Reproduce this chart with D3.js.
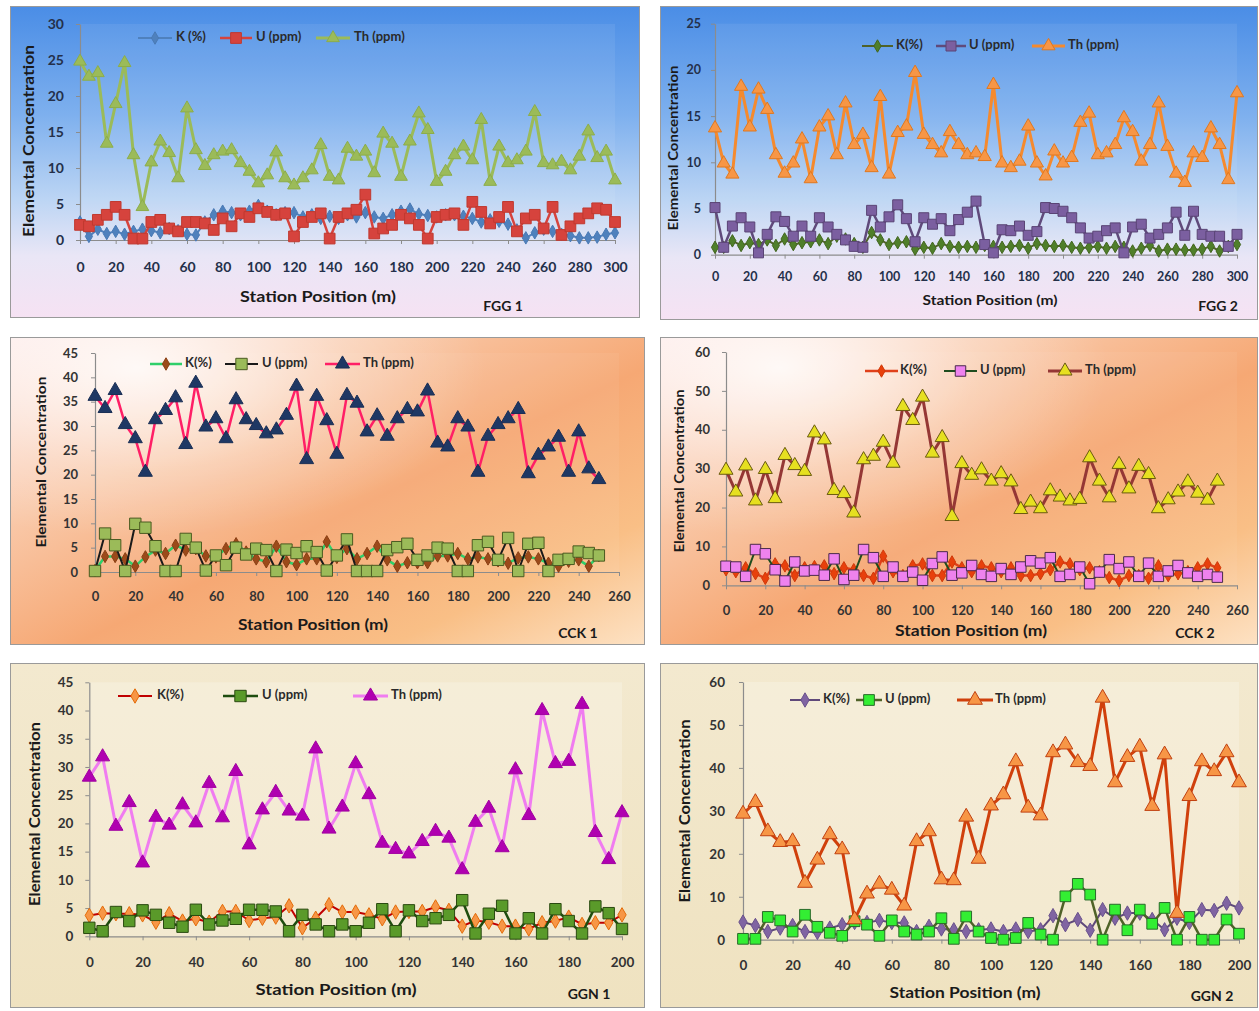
<!DOCTYPE html>
<html>
<head>
<meta charset="utf-8">
<script src="https://cdn.jsdelivr.net/npm/d3@7"></script>
<style>
  body { margin: 0; background: #ffffff; }
  svg text { font-family: Lato, "Open Sans", "DejaVu Sans", sans-serif; font-weight: 700; }
</style>
</head>
<body>
<svg id="chart" width="1259" height="1011"></svg>
<script>
// ---------- Survey data: K (%), U (ppm), Th (ppm) along each traverse ----------
// FGG 1 and FGG 2 : stations every 5 m from 0 to 300 m
const fgg1K  = [2.5,0.5,1.5,0.9,1.2,0.8,1.2,1.5,1.3,1.0,1.6,1.3,0.8,0.7,2.5,3.5,4.0,3.8,3.5,4.0,4.8,4.0,3.5,3.8,3.8,3.2,3.5,3.0,3.3,3.0,3.5,3.2,3.8,3.2,3.0,3.5,4.0,4.3,3.6,3.4,3.2,3.5,3.5,3.3,3.0,2.5,2.8,2.6,2.2,1.4,0.3,1.0,1.5,1.2,0.8,0.6,0.3,0.3,0.4,0.8,1.0];
const fgg1U  = [2.1,1.9,2.8,3.5,4.6,3.5,0.2,0.2,2.5,2.8,1.6,1.2,2.5,2.5,2.3,1.4,3.0,1.9,3.7,3.2,4.4,3.9,3.5,3.7,0.5,2.5,3.2,3.7,0.2,3.2,3.7,4.2,6.3,0.9,1.6,2.1,3.5,3.0,2.1,0.2,3.2,3.5,3.7,2.1,5.3,3.9,2.3,3.2,4.6,1.2,3.0,3.5,1.6,4.6,0.7,1.9,3.0,3.7,4.4,4.2,2.5];
const fgg1Th = [24.8,22.7,23.2,13.4,18.9,24.6,11.8,4.6,10.8,13.7,12.1,8.6,18.3,12.5,10.3,11.8,12.3,12.5,10.7,9.5,7.9,9.0,12.2,8.6,7.6,8.6,9.7,13.2,8.8,8.3,12.7,11.6,12.3,9.3,14.8,13.4,8.8,13.7,17.6,15.3,8.1,9.5,11.8,13.0,11.1,16.7,8.1,13.0,10.7,11.1,12.3,17.8,10.7,10.4,10.9,9.7,11.6,15.1,11.4,12.3,8.3];

const fgg2K  = [0.8,0.8,1.5,1.0,1.3,1.1,1.6,1.0,1.7,1.1,1.3,1.4,1.6,1.2,2.0,1.7,1.2,0.8,2.4,1.6,1.1,1.3,1.4,0.6,0.8,0.7,1.2,0.9,0.8,0.9,0.8,1.0,0.9,0.8,0.9,1.0,0.7,1.2,1.0,0.9,1.0,0.8,0.7,0.8,0.9,0.7,0.9,0.8,0.4,0.7,1.0,0.4,0.6,0.6,0.5,0.5,0.6,0.9,0.4,0.9,1.1];
const fgg2U  = [5.1,0.8,3.1,4.0,3.0,0.2,2.2,4.1,3.6,2.0,3.1,2.0,4.0,3.0,2.2,1.6,0.9,0.8,4.8,3.0,4.1,5.4,3.9,1.4,4.0,3.3,3.9,2.6,3.8,4.6,5.8,1.1,0.2,2.7,2.6,3.1,2.1,2.5,5.1,5.0,4.7,4.0,2.9,1.8,2.0,2.6,2.9,0.2,3.0,3.3,1.8,2.2,2.9,4.6,2.1,4.7,2.2,2.0,2.0,0.9,2.2];
const fgg2Th = [13.7,9.9,8.7,18.2,13.8,17.9,15.7,10.8,8.8,9.9,12.5,8.2,13.8,15.0,10.8,16.4,11.9,13.0,9.4,17.1,8.7,13.2,13.9,19.7,13.0,11.9,11.0,13.3,11.9,10.8,11.0,10.6,18.4,9.9,9.4,10.1,13.9,9.9,8.5,11.2,9.9,10.5,14.3,15.3,10.8,11.0,11.9,14.8,13.3,10.1,11.9,16.4,11.7,8.8,7.8,11.0,10.5,13.7,11.9,8.1,17.5];

// CCK 1 and CCK 2 : stations every 5 m from 0 to 250 m
const cck1K  = [0.3,3.2,3.2,2.7,1.2,3.1,4.5,3.8,5.5,4.5,4.8,3.3,3.1,4.8,5.8,4.1,2.7,2.1,5.3,2.1,1.5,2.7,2.7,6.2,3.0,4.8,2.7,3.8,5.3,2.5,1.2,1.9,1.9,1.9,3.3,3.3,3.8,2.7,3.1,2.7,2.3,1.8,2.9,3.1,2.7,1.8,1.2,2.2,2.5,1.2,3.4];
const cck1U  = [0.2,7.9,5.5,0.2,9.9,9.1,5.3,0.2,0.2,6.8,5.0,0.3,3.4,1.4,5.0,3.6,4.8,4.5,0.2,4.6,3.9,5.3,4.1,0.3,3.4,6.7,0.2,0.2,0.2,4.5,5.1,5.8,2.5,3.4,5.0,4.8,0.2,0.2,5.5,6.2,2.5,7.0,0.2,5.8,6.0,0.2,2.5,2.7,4.2,3.9,3.4];
const cck1Th = [36.1,33.6,37.3,30.3,27.4,20.5,31.3,33.2,35.8,26.2,38.8,29.8,31.5,27.4,35.4,31.3,30.1,28.4,29.2,32.2,38.2,23.1,36.1,31.1,24.2,36.3,34.7,28.8,32.1,27.9,31.5,33.4,32.9,37.2,26.5,25.7,31.5,29.8,20.5,27.9,30.3,31.5,33.4,20.2,24.0,25.7,27.7,20.5,28.8,21.2,19.0];

const cck2K  = [4.0,3.5,4.5,3.0,1.8,5.5,5.0,2.5,4.5,4.8,5.0,3.0,4.5,4.0,2.5,1.8,7.5,3.5,2.5,5.0,5.5,2.5,2.5,6.0,4.5,3.5,5.0,4.5,3.5,4.5,2.5,2.5,3.0,4.0,6.0,5.5,4.0,4.5,3.5,2.0,1.2,2.5,2.5,1.8,5.0,2.5,3.0,3.5,4.5,5.5,4.5];
const cck2U  = [4.9,4.7,2.3,9.2,8.1,4.0,1.1,6.0,3.7,3.9,2.6,6.8,1.5,2.6,9.2,7.1,2.3,4.7,2.3,3.4,1.3,5.6,7.3,2.6,3.2,5.1,2.8,2.3,4.3,2.8,4.7,6.3,5.7,7.1,2.3,2.8,4.7,0.4,3.4,6.6,4.3,6.0,2.3,5.7,2.3,3.7,5.1,3.2,2.3,2.8,2.1];
const cck2Th = [29.6,24.0,30.7,21.7,29.8,22.3,33.4,30.8,29.3,39.2,37.4,24.4,23.6,18.6,32.3,33.2,36.8,31.4,46.0,42.4,48.4,34.0,38.0,17.7,31.3,28.3,29.7,26.8,28.7,26.6,19.5,21.4,19.7,24.3,22.7,21.7,22.1,32.8,26.8,22.5,31.1,24.8,30.6,28.5,19.7,22.0,24.0,26.6,23.7,21.9,26.8];

// GGN 1 and GGN 2 : stations every 5 m from 0 to 200 m
const ggn1K  = [3.7,4.1,4.0,4.0,3.8,2.5,4.0,2.7,3.1,2.5,4.4,4.4,2.8,3.2,3.4,5.4,1.5,3.2,5.6,4.3,4.3,3.8,3.1,4.3,4.4,4.4,5.2,4.6,1.8,2.8,2.5,1.8,1.8,1.3,2.4,2.7,3.4,2.1,2.4,2.4,3.8];
const ggn1U  = [1.5,0.9,4.3,2.7,4.6,3.8,2.4,1.7,4.7,2.1,2.8,3.1,4.7,4.7,4.4,0.9,3.8,2.1,0.9,2.1,0.9,2.4,4.8,0.9,4.6,2.7,3.2,3.8,6.4,0.5,4.0,5.4,0.5,3.2,0.5,4.8,2.7,0.5,5.3,4.1,1.3];
const ggn1Th = [28.2,31.8,19.5,23.7,13.0,21.1,19.7,23.3,20.1,27.1,21.0,29.2,16.2,22.4,25.5,22.2,21.3,33.2,19.0,22.9,30.6,25.1,16.5,15.4,14.6,16.8,18.6,17.4,11.8,20.2,22.7,15.7,29.5,21.4,40.0,30.6,31.0,41.1,18.4,13.6,21.9];

const ggn2K  = [4.1,3.3,1.9,2.7,3.3,1.9,1.7,2.7,3.5,4.0,4.0,4.5,4.0,3.9,1.9,3.1,2.5,2.3,1.9,2.3,2.5,1.9,2.5,1.9,2.3,5.6,3.5,4.7,2.2,7.0,5.0,6.2,6.2,4.7,2.3,5.0,4.0,7.0,6.8,8.5,7.4];
const ggn2U  = [0.2,0.2,5.3,4.5,1.9,5.8,3.0,1.6,0.9,4.3,3.5,0.9,4.5,1.9,1.2,1.9,5.0,0.2,5.4,1.9,0.4,0.0,0.4,3.9,1.2,0.0,10.1,13.0,10.5,0.0,7.0,2.2,7.0,3.7,7.4,0.0,5.3,0.0,0.0,4.7,1.4];
const ggn2Th = [29.3,32.0,25.2,22.7,22.9,13.2,18.6,24.5,21.0,4.7,10.7,13.0,11.6,7.9,22.9,25.2,14.0,13.8,28.6,18.8,31.2,33.8,41.5,30.7,28.9,43.6,45.4,41.3,40.4,56.3,36.6,42.5,44.9,31.1,43.1,6.2,33.4,41.5,39.2,43.6,36.6];

// station positions (m)
const stations300 = d3.range(0, 301, 5);
const stations250 = d3.range(0, 251, 5);
const stations200 = d3.range(0, 201, 5);

// tick labels
const xTicks300 = [0,20,40,60,80,100,120,140,160,180,200,220,240,260,280,300];
const xTicks260 = [0,20,40,60,80,100,120,140,160,180,200,220,240,260];
const xTicks200 = [0,20,40,60,80,100,120,140,160,180,200];
const yTicks30 = [0,5,10,15,20,25,30];
const yTicks25 = [0,5,10,15,20,25];
const yTicks45 = [0,5,10,15,20,25,30,35,40,45];
const yTicks60 = [0,10,20,30,40,50,60];

// ---------- drawing ----------
const svg = d3.select('#chart');
const defs = svg.append('defs');

function linGrad(id, x1, y1, x2, y2, stops) {
  const g = defs.append('linearGradient').attr('id', id)
    .attr('x1', x1).attr('y1', y1).attr('x2', x2).attr('y2', y2);
  stops.forEach(s => g.append('stop').attr('offset', s[0]).attr('stop-color', s[1]));
}
function radGrad(id, cx, cy, r, stops) {
  const g = defs.append('radialGradient').attr('id', id)
    .attr('cx', cx).attr('cy', cy).attr('r', r);
  stops.forEach(s => g.append('stop').attr('offset', s[0]).attr('stop-color', s[1]).attr('stop-opacity', s[2] == null ? 1 : s[2]));
}
linGrad('bgBlue', 0, 0, 0, 1, [[0, '#4a8de6'], [0.35, '#7eb0ee'], [0.62, '#bcd5f4'], [0.8, '#e9e6f6'], [1, '#f6e2f3']]);
linGrad('bgOrange', 0, 0, 1, 1, [[0, '#fde6e4'], [0.3, '#f9c8a8'], [0.55, '#f6a874'], [0.8, '#f9bf86'], [1, '#fde2c4']]);
radGrad('glowOrange', 0.2, 0.1, 0.55, [[0, '#ffffff', 0.85], [0.6, '#ffffff', 0.25], [1, '#ffffff', 0]]);
linGrad('bgCream', 0, 0, 0, 1, [[0, '#f3e9cf'], [1, '#efe2c0']]);

const panels = [
  { frame: [10, 6, 630, 312], bg: 'bgBlue', glow: false, plotTint: 'rgba(255,255,255,0.07)',
    xr: [80, 615], yr: [240, 24], xMax: 300, yMax: 30, xTicks: xTicks300, yTicks: yTicks30, st: stations300,
    xPad: 18, yPad: 12, tickFill: '#24304a', fs: 14,
    yTitle: [30, 141, 192, 15], xTitle: [318, 298, 156, 15], tag: ['FGG 1', 503, 307],
    legendY: 38, legend: [[138, 172, 176], [220, 252, 256], [316, 350, 354]],
    series: [
      { name: 'K (%)', v: fgg1K, line: '#4f81bd', lw: 2, sym: d3.symbolDiamond, size: 45, fill: '#4f81bd', stroke: '#4a7ab5' },
      { name: 'U (ppm)', v: fgg1U, line: '#d6433d', lw: 2.5, sym: d3.symbolSquare, size: 115, fill: '#d6433d', stroke: '#c0392f' },
      { name: 'Th (ppm)', v: fgg1Th, line: '#9bbb59', lw: 3, sym: d3.symbolTriangle, size: 70, fill: '#9bbb59', stroke: '#8cad4a' } ] },
  { frame: [660, 6, 598, 314], bg: 'bgBlue', glow: false, plotTint: 'rgba(255,255,255,0.07)',
    xr: [715, 1237], yr: [254.7, 23.7], xMax: 300, yMax: 25, xTicks: xTicks300, yTicks: yTicks25, st: stations300,
    xPad: 13, yPad: 10, tickFill: '#24304a', fs: 12.5,
    yTitle: [675, 148, 165, 13.5], xTitle: [990, 302, 135, 13.5], tag: ['FGG 2', 1218, 307],
    legendY: 46, legend: [[862, 893, 896], [936, 966, 969], [1032, 1065, 1068]],
    series: [
      { name: 'K(%)', v: fgg2K, line: '#4f6228', lw: 2, sym: d3.symbolDiamond, size: 45, fill: '#4f7f2a', stroke: '#43661f' },
      { name: 'U (ppm)', v: fgg2U, line: '#604a7b', lw: 2.5, sym: d3.symbolSquare, size: 100, fill: '#7b5fa0', stroke: '#5a4475' },
      { name: 'Th (ppm)', v: fgg2Th, line: '#f58a2e', lw: 3, sym: d3.symbolTriangle, size: 75, fill: '#f79646', stroke: '#e0781f' } ] },
  { frame: [10, 337, 635, 308], bg: 'bgOrange', glow: true, plotTint: 'rgba(255,255,255,0.05)',
    xr: [95, 619], yr: [572, 353], xMax: 260, yMax: 45, xTicks: xTicks260, yTicks: yTicks45, st: stations250,
    xPad: 16, yPad: 13, tickFill: '#333333', fs: 13,
    yTitle: [42, 462, 171, 14], xTitle: [313, 626, 150, 14.5], tag: ['CCK 1', 578, 634],
    legendY: 364, legend: [[150, 182, 185], [225, 258, 262], [325, 360, 363]],
    series: [
      { name: 'K(%)', v: cck1K, line: '#2fcf6a', lw: 2.5, sym: d3.symbolDiamond, size: 45, fill: '#9c4a1a', stroke: '#8a3f14' },
      { name: 'U (ppm)', v: cck1U, line: '#1a1a1a', lw: 2, sym: d3.symbolSquare, size: 130, fill: '#9bbb59', stroke: '#4a5a20' },
      { name: 'Th (ppm)', v: cck1Th, line: '#ff1f66', lw: 2.5, sym: d3.symbolTriangle, size: 85, fill: '#1f3864', stroke: '#1a2f55' } ] },
  { frame: [660, 337, 598, 308], bg: 'bgOrange', glow: true, plotTint: 'rgba(255,255,255,0.05)',
    xr: [726, 1237], yr: [585.3, 352], xMax: 260, yMax: 60, xTicks: xTicks260, yTicks: yTicks60, st: stations250,
    xPad: 16, yPad: 12, tickFill: '#333333', fs: 13,
    yTitle: [680, 471, 163, 14], xTitle: [971, 632, 152, 14.5], tag: ['CCK 2', 1195, 634],
    legendY: 371, legend: [[865, 898, 900], [944, 977, 980], [1048, 1082, 1085]],
    series: [
      { name: 'K(%)', v: cck2K, line: '#e0401a', lw: 2.5, sym: d3.symbolDiamond, size: 45, fill: '#e8400c', stroke: '#d03a0a' },
      { name: 'U (ppm)', v: cck2U, line: '#1e4d1e', lw: 2, sym: d3.symbolSquare, size: 110, fill: '#ee82ee', stroke: '#4a2a4a' },
      { name: 'Th (ppm)', v: cck2Th, line: '#953735', lw: 3, sym: d3.symbolTriangle, size: 85, fill: '#e6e020', stroke: '#6a5a10' } ] },
  { frame: [10, 663, 635, 345], bg: 'bgCream', glow: false, plotTint: 'rgba(255,255,255,0.22)',
    xr: [89.3, 622], yr: [936.3, 682.3], xMax: 200, yMax: 45, xTicks: xTicks200, yTicks: yTicks45, st: stations200,
    xPad: 17, yPad: 12, tickFill: '#333333', fs: 13.5,
    yTitle: [36, 814, 184, 15], xTitle: [336, 991, 161, 15], tag: ['GGN 1', 589, 995],
    legendY: 696, legend: [[118, 152, 157], [223, 258, 262], [353, 388, 391]],
    series: [
      { name: 'K(%)', v: ggn1K, line: '#c00000', lw: 2, sym: d3.symbolDiamond, size: 60, fill: '#f79646', stroke: '#e36c09' },
      { name: 'U (ppm)', v: ggn1U, line: '#1e4d0f', lw: 2.5, sym: d3.symbolSquare, size: 130, fill: '#5a9a2a', stroke: '#2a4a10' },
      { name: 'Th (ppm)', v: ggn1Th, line: '#f07cf0', lw: 3, sym: d3.symbolTriangle, size: 85, fill: '#b000b0', stroke: '#a000a0' } ] },
  { frame: [660, 663, 598, 345], bg: 'bgCream', glow: false, plotTint: 'rgba(255,255,255,0.22)',
    xr: [743, 1239], yr: [939.7, 682], xMax: 200, yMax: 60, xTicks: xTicks200, yTicks: yTicks60, st: stations200,
    xPad: 17, yPad: 14, tickFill: '#333333', fs: 13.5,
    yTitle: [686, 811, 183, 15], xTitle: [965, 994, 151, 15], tag: ['GGN 2', 1212, 997],
    legendY: 700, legend: [[790, 820, 823], [856, 882, 885], [957, 993, 995]],
    series: [
      { name: 'K(%)', v: ggn2K, line: '#5f497a', lw: 2, sym: d3.symbolDiamond, size: 60, fill: '#8064a2', stroke: '#6a528c' },
      { name: 'U (ppm)', v: ggn2U, line: '#4f6228', lw: 2.5, sym: d3.symbolSquare, size: 115, fill: '#33ee33', stroke: '#2a6a2a' },
      { name: 'Th (ppm)', v: ggn2Th, line: '#d0400c', lw: 3, sym: d3.symbolTriangle, size: 95, fill: '#f79646', stroke: '#c04010' } ] }
];

panels.forEach(p => {
  const g = svg.append('g');
  const [fx, fy, fw, fh] = p.frame;

  // chart area background and frame
  g.append('rect').attr('x', fx).attr('y', fy).attr('width', fw).attr('height', fh)
    .attr('fill', `url(#${p.bg})`);
  if (p.glow) {
    g.append('rect').attr('x', fx).attr('y', fy).attr('width', fw).attr('height', fh)
      .attr('fill', 'url(#glowOrange)');
  }
  g.append('rect').attr('x', fx + 0.5).attr('y', fy + 0.5).attr('width', fw - 1).attr('height', fh - 1)
    .attr('fill', 'none').attr('stroke', '#9a9a9a').attr('stroke-width', 1);

  const xs = d3.scaleLinear().domain([0, p.xMax]).range(p.xr);
  const ys = d3.scaleLinear().domain([0, p.yMax]).range(p.yr);

  // plot area tint
  g.append('rect').attr('x', p.xr[0]).attr('y', p.yr[1])
    .attr('width', p.xr[1] - p.xr[0]).attr('height', p.yr[0] - p.yr[1])
    .attr('fill', p.plotTint);

  // axes
  const ax = g.append('g').attr('transform', `translate(0,${p.yr[0]})`)
    .call(d3.axisBottom(xs).tickValues(p.xTicks).tickSizeInner(4).tickSizeOuter(0).tickPadding(p.xPad));
  const ay = g.append('g').attr('transform', `translate(${p.xr[0]},0)`)
    .call(d3.axisLeft(ys).tickValues(p.yTicks).tickSizeInner(4).tickSizeOuter(0).tickPadding(p.yPad));
  [ax, ay].forEach(a => {
    a.select('.domain').attr('stroke', '#8c8c8c').attr('stroke-width', 1.2);
    a.selectAll('.tick line').attr('stroke', '#8c8c8c');
    a.selectAll('.tick text').attr('font-size', p.fs).attr('fill', p.tickFill)
      .attr('font-family', 'Lato, "Open Sans", sans-serif').attr('font-weight', 700);
  });

  // axis titles
  g.append('text')
    .attr('transform', `translate(${p.yTitle[0]},${p.yTitle[1]}) rotate(-90)`)
    .attr('text-anchor', 'middle').attr('dominant-baseline', 'middle')
    .attr('font-size', p.yTitle[3]).attr('fill', '#1a1a1a')
    .attr('textLength', p.yTitle[2]).attr('lengthAdjust', 'spacingAndGlyphs')
    .text('Elemental Concentration');
  g.append('text')
    .attr('x', p.xTitle[0]).attr('y', p.xTitle[1])
    .attr('text-anchor', 'middle').attr('dominant-baseline', 'middle')
    .attr('font-size', p.xTitle[3]).attr('fill', '#1a1a1a')
    .attr('textLength', p.xTitle[2]).attr('lengthAdjust', 'spacingAndGlyphs')
    .text('Station Position (m)');
  g.append('text')
    .attr('x', p.tag[1]).attr('y', p.tag[2])
    .attr('text-anchor', 'middle').attr('dominant-baseline', 'middle')
    .attr('font-size', 14).attr('fill', '#1a1a1a')
    .text(p.tag[0]);

  // series: lines then markers
  p.series.forEach(s => {
    const line = d3.line().x((d, i) => xs(p.st[i])).y(d => ys(d));
    g.append('path').datum(s.v).attr('d', line)
      .attr('fill', 'none').attr('stroke', s.line).attr('stroke-width', s.lw)
      .attr('stroke-linejoin', 'round');
    const sym = d3.symbol().type(s.sym).size(s.size);
    g.append('g').selectAll('path').data(s.v).join('path')
      .attr('transform', (d, i) => `translate(${xs(p.st[i])},${ys(d)})`)
      .attr('d', sym).attr('fill', s.fill).attr('stroke', s.stroke).attr('stroke-width', 1);
  });

  // legend
  p.series.forEach((s, k) => {
    const [x1, x2, tx] = p.legend[k];
    const ly = p.legendY;
    g.append('line').attr('x1', x1).attr('x2', x2).attr('y1', ly).attr('y2', ly)
      .attr('stroke', s.line).attr('stroke-width', s.lw);
    g.append('path').attr('transform', `translate(${(x1 + x2) / 2},${ly})`)
      .attr('d', d3.symbol().type(s.sym).size(s.size)())
      .attr('fill', s.fill).attr('stroke', s.stroke).attr('stroke-width', 1);
    g.append('text').attr('x', tx).attr('y', ly).attr('dominant-baseline', 'middle')
      .attr('font-size', 13).attr('fill', '#2a2a2a').text(s.name);
  });
});
</script>
</body>
</html>
